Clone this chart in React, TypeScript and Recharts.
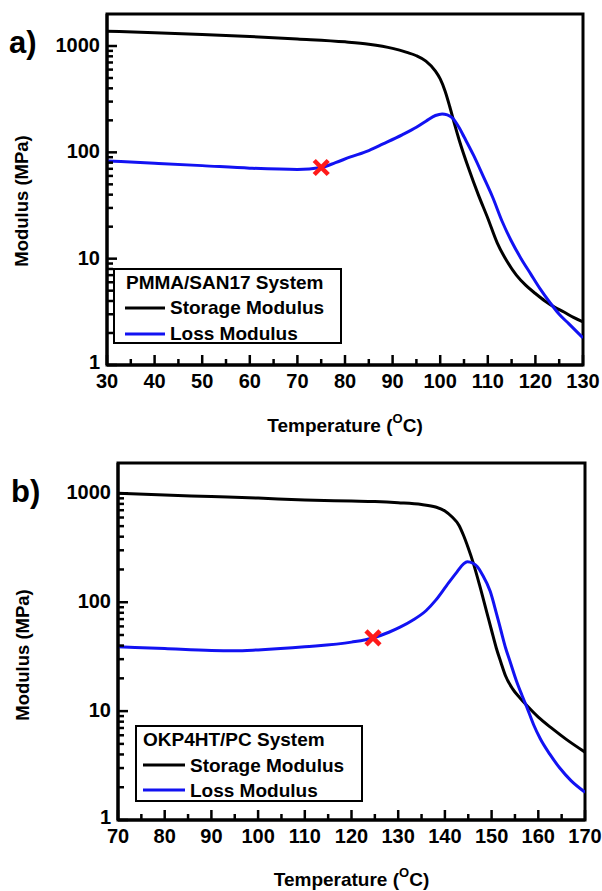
import React from 'react';
import { ComposedChart, Line, XAxis, YAxis, Scatter, ReferenceArea, Legend } from 'recharts';

const FONT = '"Liberation Sans", Arial, Helvetica, sans-serif';
const BLUE = '#1212f2';
const RED = '#ff1a1a';
const TICK = '#000';

// ---------- Panel a) PMMA/SAN17 ----------
const storageA = [
  { t: 30, v: 1380 }, { t: 40, v: 1335 }, { t: 50, v: 1285 }, { t: 60, v: 1230 },
  { t: 70, v: 1165 }, { t: 80, v: 1095 }, { t: 85, v: 1040 }, { t: 90, v: 950 },
  { t: 93, v: 870 }, { t: 95, v: 810 }, { t: 97, v: 720 }, { t: 99, v: 580 },
  { t: 100, v: 490 }, { t: 101, v: 380 }, { t: 102, v: 270 }, { t: 103, v: 185 },
  { t: 104, v: 130 }, { t: 106, v: 70 }, { t: 108, v: 40 }, { t: 110, v: 24 },
  { t: 112, v: 14 }, { t: 114, v: 9.5 }, { t: 116, v: 7 }, { t: 118, v: 5.6 },
  { t: 120, v: 4.7 }, { t: 122, v: 4.0 }, { t: 124, v: 3.5 }, { t: 126, v: 3.15 },
  { t: 128, v: 2.8 }, { t: 130, v: 2.55 },
];
const lossA = [
  { t: 30, v: 83 }, { t: 40, v: 79 }, { t: 50, v: 75 }, { t: 60, v: 71 },
  { t: 70, v: 69 }, { t: 75, v: 72 }, { t: 78, v: 80 }, { t: 81, v: 90 },
  { t: 85, v: 104 }, { t: 88, v: 120 }, { t: 92, v: 146 }, { t: 95, v: 172 },
  { t: 97, v: 196 }, { t: 99, v: 222 }, { t: 100.4, v: 230 }, { t: 101.5, v: 225 },
  { t: 102.5, v: 212 }, { t: 104, v: 170 }, { t: 105, v: 140 }, { t: 107, v: 94 },
  { t: 109, v: 60 }, { t: 111, v: 38 }, { t: 113, v: 22.5 }, { t: 115, v: 14.5 },
  { t: 117, v: 10 }, { t: 119, v: 7.2 }, { t: 121, v: 5.2 }, { t: 123, v: 3.9 },
  { t: 125, v: 3.0 }, { t: 127, v: 2.45 }, { t: 130, v: 1.8 },
];
const markerA = [{ t: 75, v: 72 }];
const tempTicksA = [30, 35, 40, 45, 50, 55, 60, 65, 70, 75, 80, 85, 90, 95, 100, 105, 110, 115, 120, 125, 130];
const tempLabelsA = [30, 40, 50, 60, 70, 80, 90, 100, 110, 120, 130];

// ---------- Panel b) OKP4HT/PC ----------
const storageB = [
  { t: 70, v: 1000 }, { t: 80, v: 965 }, { t: 90, v: 935 }, { t: 100, v: 905 },
  { t: 110, v: 870 }, { t: 120, v: 850 }, { t: 125, v: 840 }, { t: 130, v: 820 },
  { t: 135, v: 790 }, { t: 138, v: 750 }, { t: 140, v: 690 }, { t: 141.5, v: 610 },
  { t: 143, v: 510 }, { t: 144, v: 410 }, { t: 145, v: 315 }, { t: 146, v: 235 },
  { t: 147.5, v: 140 }, { t: 149, v: 80 }, { t: 150, v: 55 }, { t: 151, v: 38 },
  { t: 152, v: 28 }, { t: 153, v: 21 }, { t: 154.5, v: 16 }, { t: 156, v: 13.3 },
  { t: 157.5, v: 11.3 }, { t: 160, v: 8.8 }, { t: 163, v: 6.9 }, { t: 166, v: 5.5 },
  { t: 170, v: 4.2 },
];
const lossB = [
  { t: 70, v: 39 }, { t: 80, v: 37.5 }, { t: 90, v: 36 }, { t: 95, v: 35.8 },
  { t: 100, v: 36.5 }, { t: 110, v: 39 }, { t: 120, v: 43 }, { t: 124.6, v: 47 },
  { t: 128, v: 53 }, { t: 130.4, v: 59 }, { t: 133, v: 68 }, { t: 136, v: 84 },
  { t: 138, v: 104 }, { t: 140.4, v: 143 }, { t: 142.6, v: 190 }, { t: 144, v: 225 },
  { t: 144.8, v: 235 }, { t: 146, v: 228 }, { t: 146.9, v: 213 }, { t: 148, v: 180 },
  { t: 149.7, v: 126 }, { t: 151, v: 80 }, { t: 152, v: 55 }, { t: 153, v: 38 },
  { t: 153.9, v: 29 }, { t: 155.3, v: 19 }, { t: 156.5, v: 14 }, { t: 157.5, v: 11 },
  { t: 159, v: 7.5 }, { t: 160.4, v: 5.6 }, { t: 162.5, v: 4.0 }, { t: 164.6, v: 3.0 },
  { t: 167, v: 2.3 }, { t: 170, v: 1.8 },
];
const markerB = [{ t: 124.6, v: 47 }];
const tempTicksB = [70, 75, 80, 85, 90, 95, 100, 105, 110, 115, 120, 125, 130, 135, 140, 145, 150, 155, 160, 165, 170];
const tempLabelsB = [70, 80, 90, 100, 110, 120, 130, 140, 150, 160, 170];

// ---------- shared ----------
const modulusTicks = [1, 2, 3, 4, 5, 6, 7, 8, 9, 10, 20, 30, 40, 50, 60, 70, 80, 90,
  100, 200, 300, 400, 500, 600, 700, 800, 900, 1000];
const modulusLabels = [1, 10, 100, 1000];
const seriesNames = ['Storage Modulus', 'Loss Modulus'];
const xTitle = 'Temperature (';
const xTitleSup = 'O';
const xTitleEnd = 'C)';
const yTitle = 'Modulus (MPa)';

const makeXTick = (labels: number[]) => (props: any) => {
  const { x, y, payload } = props;
  const major = labels.includes(payload.value);
  return (
    <g>
      <line x1={x} x2={x} y1={y} y2={y - (major ? 10 : 6)} stroke={TICK} strokeWidth={2.5} />
      {major && (
        <text x={x} y={y + 23} textAnchor="middle" fontSize={20} fontWeight="bold" fontFamily={FONT} fill="#000">
          {payload.value}
        </text>
      )}
    </g>
  );
};

const YTick = (props: any) => {
  const { x, y, payload } = props;
  const major = modulusLabels.includes(payload.value);
  return (
    <g>
      <line x1={x} x2={x + (major ? 10 : 6)} y1={y} y2={y} stroke={TICK} strokeWidth={2.5} />
      {major && (
        <text x={x - 7} y={y + (payload.value === 1 ? 4 : 6)} textAnchor="end" fontSize={20} fontWeight="bold" fontFamily={FONT} fill="#000">
          {payload.value}
        </text>
      )}
    </g>
  );
};

const XMark = (props: any) => {
  const { cx, cy } = props;
  const s = 7;
  return (
    <g>
      <line x1={cx - s} y1={cy - s} x2={cx + s} y2={cy + s} stroke={RED} strokeWidth={4.5} />
      <line x1={cx - s} y1={cy + s} x2={cx + s} y2={cy - s} stroke={RED} strokeWidth={4.5} />
    </g>
  );
};

type LegendCfg = {
  title: string; w: number; h: number; titleX: number; sampleX1: number; sampleX2: number;
  textX: number; titleY: number; row1Line: number; row1Text: number; row2Line: number; row2Text: number;
};

const LegendBox = ({ cfg }: { cfg: LegendCfg }) => (
  <svg width={cfg.w} height={cfg.h} style={{ display: 'block' }}>
    <rect x={1} y={1} width={cfg.w - 2} height={cfg.h - 2} fill="#fff" stroke="#000" strokeWidth={2} />
    <text x={cfg.titleX} y={cfg.titleY} fontSize={19} fontWeight="bold" fontFamily={FONT} fill="#000">{cfg.title}</text>
    <line x1={cfg.sampleX1} x2={cfg.sampleX2} y1={cfg.row1Line} y2={cfg.row1Line} stroke="#000" strokeWidth={3} />
    <text x={cfg.textX} y={cfg.row1Text} fontSize={19} fontWeight="bold" fontFamily={FONT} fill="#000">{seriesNames[0]}</text>
    <line x1={cfg.sampleX1} x2={cfg.sampleX2} y1={cfg.row2Line} y2={cfg.row2Line} stroke={BLUE} strokeWidth={3} />
    <text x={cfg.textX} y={cfg.row2Text} fontSize={19} fontWeight="bold" fontFamily={FONT} fill="#000">{seriesNames[1]}</text>
  </svg>
);

type PanelCfg = {
  letter: string; letterX: number; letterY: number;
  top: number; height: number; margin: { top: number; right: number; left: number; bottom: number };
  yWidth: number; xHeight: number; domainX: [number, number]; domainY: [number, number];
  ticksX: number[]; labelsX: number[];
  storage: { t: number; v: number }[]; loss: { t: number; v: number }[]; marker: { t: number; v: number }[];
  yTitleX: number; yTitleY: number; xTitleDy: number;
  legendLeft: number; legendTop: number; legend: LegendCfg;
};

const Panel = ({ cfg }: { cfg: PanelCfg }) => {
  const XTick = makeXTick(cfg.labelsX);
  return (
    <div style={{ position: 'absolute', left: 0, top: cfg.top, width: 602, height: cfg.height }}>
      <ComposedChart width={602} height={cfg.height} margin={cfg.margin}>
        <XAxis
          dataKey="t" type="number" domain={cfg.domainX} ticks={cfg.ticksX} interval={0}
          allowDataOverflow tickSize={0} tickMargin={0} tickLine={false} tick={XTick}
          axisLine={{ stroke: '#000', strokeWidth: 3 }} height={cfg.xHeight}
          label={{
            content: (p: any) => {
              const vb = p.viewBox;
              return (
                <text x={vb.x + vb.width / 2} y={vb.y + cfg.xTitleDy} textAnchor="middle" fontSize={19} fontWeight="bold" fontFamily={FONT} fill="#000">
                  {xTitle}
                  <tspan fontSize={13} dy={-9}>{xTitleSup}</tspan>
                  <tspan dy={9}>{xTitleEnd}</tspan>
                </text>
              );
            },
          }}
        />
        <YAxis
          type="number" scale="log" domain={cfg.domainY} ticks={modulusTicks} interval={0}
          allowDataOverflow tickSize={0} tickMargin={0} tickLine={false} tick={YTick}
          axisLine={{ stroke: '#000', strokeWidth: 3 }} width={cfg.yWidth}
          label={{
            content: () => (
              <g>
                <text x={cfg.letterX} y={cfg.letterY} fontSize={31} fontWeight="bold" fontFamily={FONT} fill="#000">{cfg.letter}</text>
                <text
                  x={cfg.yTitleX} y={cfg.yTitleY} textAnchor="middle" fontSize={18.5} fontWeight="bold" fontFamily={FONT} fill="#000"
                  transform={`rotate(-90 ${cfg.yTitleX} ${cfg.yTitleY})`}
                >
                  {yTitle}
                </text>
              </g>
            ),
          }}
        />
        <ReferenceArea
          x1={cfg.domainX[0]} x2={cfg.domainX[1]} y1={cfg.domainY[0]} y2={cfg.domainY[1]}
          fill="none" fillOpacity={0} stroke="#000" strokeWidth={3} ifOverflow="visible"
        />
        <Line data={cfg.storage} dataKey="v" type="monotone" stroke="#000" strokeWidth={3} dot={false} isAnimationActive={false} name={seriesNames[0]} />
        <Line data={cfg.loss} dataKey="v" type="monotone" stroke={BLUE} strokeWidth={3} dot={false} isAnimationActive={false} name={seriesNames[1]} />
        <Scatter data={cfg.marker} dataKey="v" shape={XMark} isAnimationActive={false} legendType="none" />
        <Legend
          layout="vertical" align="center" verticalAlign="middle"
          wrapperStyle={{ left: cfg.legendLeft, top: cfg.legendTop, width: cfg.legend.w, height: cfg.legend.h, margin: 0, padding: 0 }}
          content={() => <LegendBox cfg={cfg.legend} />}
        />
      </ComposedChart>
    </div>
  );
};

const panelA: PanelCfg = {
  letter: 'a)', letterX: 9, letterY: 53,
  top: 0, height: 440, margin: { top: 14, right: 19, left: 0, bottom: 0 },
  yWidth: 107, xHeight: 75, domainX: [30, 130], domainY: [1, 2000],
  ticksX: tempTicksA, labelsX: tempLabelsA,
  storage: storageA, loss: lossA, marker: markerA,
  yTitleX: 28, yTitleY: 201, xTitleDy: 67,
  legendLeft: 113, legendTop: 268,
  legend: {
    title: 'PMMA/SAN17 System', w: 229, h: 76, titleX: 13, sampleX1: 12, sampleX2: 52, textX: 57,
    titleY: 21, row1Line: 40, row1Text: 46, row2Line: 66, row2Text: 72,
  },
};

const panelB: PanelCfg = {
  letter: 'b)', letterX: 11, letterY: 62,
  top: 440, height: 451, margin: { top: 23, right: 17, left: 0, bottom: 0 },
  yWidth: 118, xHeight: 71, domainX: [70, 170], domainY: [1, 1900],
  ticksX: tempTicksB, labelsX: tempLabelsB,
  storage: storageB, loss: lossB, marker: markerB,
  yTitleX: 29, yTitleY: 215, xTitleDy: 66,
  legendLeft: 135, legendTop: 285,
  legend: {
    title: 'OKP4HT/PC System', w: 228, h: 77, titleX: 8, sampleX1: 8, sampleX2: 50, textX: 55,
    titleY: 21, row1Line: 40, row1Text: 47, row2Line: 65, row2Text: 72,
  },
};

export default function App() {
  return (
    <div style={{ position: 'absolute', left: 0, top: 0, width: 602, height: 891, background: '#fff', overflow: 'hidden' }}>
      <Panel cfg={panelA} />
      <Panel cfg={panelB} />
    </div>
  );
}
